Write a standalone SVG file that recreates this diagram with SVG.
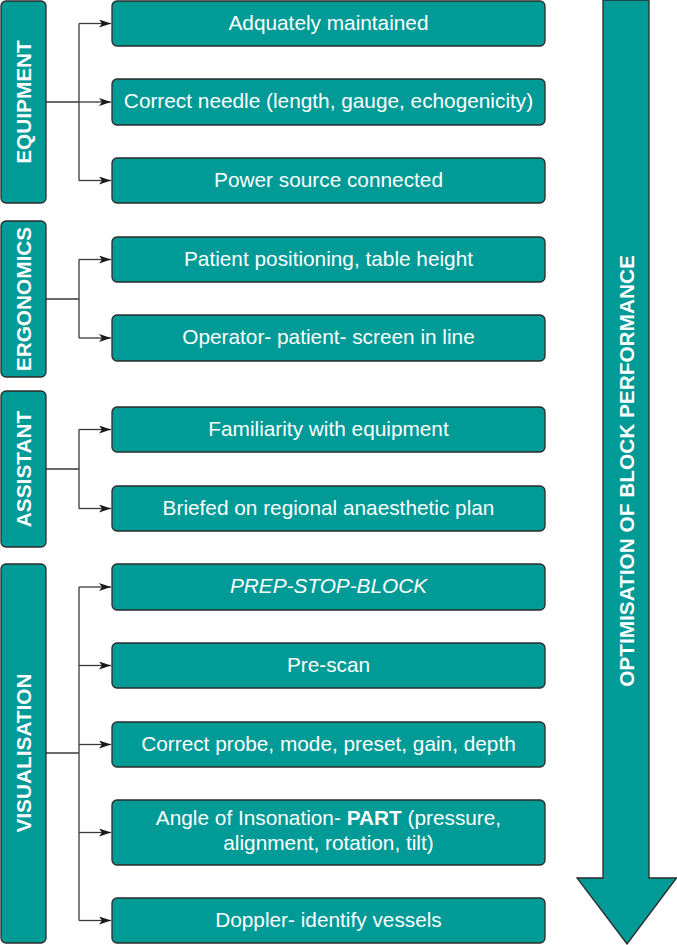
<svg xmlns="http://www.w3.org/2000/svg" width="677" height="945" viewBox="0 0 677 945">
<style>
.box{fill:#009a97;stroke:#2b2b2b;stroke-width:1.3}
.t{font-family:"Liberation Sans",Arial,sans-serif;font-size:20.8px;fill:#ffffff;text-anchor:middle}
.b{font-weight:bold}
.c{fill:none;stroke:#3a3a3a;stroke-width:1.3}
</style>
<defs>
<marker id="ah" markerWidth="12" markerHeight="8" refX="12" refY="4" orient="auto" markerUnits="userSpaceOnUse">
<path d="M0,0 L12,4 L0,8 L3,4 Z" fill="#1a1a1a"/>
</marker>
</defs>
<g id="connectors">
<path class="c" d="M46,102 H79 M79,23.5 V180.5"/>
<path class="c" d="M79,23.5 H111" marker-end="url(#ah)"/>
<path class="c" d="M79,102 H111" marker-end="url(#ah)"/>
<path class="c" d="M79,180.5 H111" marker-end="url(#ah)"/>
<path class="c" d="M46,299 H79 M79,259.5 V338"/>
<path class="c" d="M79,259.5 H111" marker-end="url(#ah)"/>
<path class="c" d="M79,338 H111" marker-end="url(#ah)"/>
<path class="c" d="M46,469 H79 M79,429.5 V508.5"/>
<path class="c" d="M79,429.5 H111" marker-end="url(#ah)"/>
<path class="c" d="M79,508.5 H111" marker-end="url(#ah)"/>
<path class="c" d="M46,753 H79 M79,587 V920.5"/>
<path class="c" d="M79,587 H111" marker-end="url(#ah)"/>
<path class="c" d="M79,665.5 H111" marker-end="url(#ah)"/>
<path class="c" d="M79,744.5 H111" marker-end="url(#ah)"/>
<path class="c" d="M79,832.5 H111" marker-end="url(#ah)"/>
<path class="c" d="M79,920.5 H111" marker-end="url(#ah)"/>
</g>
<g id="equipment"><rect class="box" x="1" y="1" width="45" height="202" rx="5"/><text class="t b" transform="translate(30.5,102) rotate(-90)">EQUIPMENT</text></g>
<g id="ergonomics"><rect class="box" x="1" y="221" width="45" height="156" rx="5"/><text class="t b" transform="translate(30.5,299) rotate(-90)">ERGONOMICS</text></g>
<g id="assistant"><rect class="box" x="1" y="391" width="45" height="156" rx="5"/><text class="t b" transform="translate(30.5,469) rotate(-90)">ASSISTANT</text></g>
<g id="visualisation"><rect class="box" x="1" y="564" width="45" height="379" rx="5"/><text class="t b" transform="translate(30.5,753) rotate(-90)">VISUALISATION</text></g>
<g id="n1"><rect class="box" x="112" y="1" width="433" height="45" rx="5"/><text class="t" x="328.5" y="29.5">Adquately maintained</text></g>
<g id="n2"><rect class="box" x="112" y="79" width="433" height="46" rx="5"/><text class="t" x="328.5" y="108">Correct needle (length, gauge, echogenicity)</text></g>
<g id="n3"><rect class="box" x="112" y="158" width="433" height="45" rx="5"/><text class="t" x="328.5" y="186.5">Power source connected</text></g>
<g id="n4"><rect class="box" x="112" y="237" width="433" height="45" rx="5"/><text class="t" x="328.5" y="265.5">Patient positioning, table height</text></g>
<g id="n5"><rect class="box" x="112" y="315" width="433" height="46" rx="5"/><text class="t" x="328.5" y="344">Operator- patient- screen in line</text></g>
<g id="n6"><rect class="box" x="112" y="407" width="433" height="45" rx="5"/><text class="t" x="328.5" y="435.5">Familiarity with equipment</text></g>
<g id="n7"><rect class="box" x="112" y="486" width="433" height="45" rx="5"/><text class="t" x="328.5" y="514.5">Briefed on regional anaesthetic plan</text></g>
<g id="n8"><rect class="box" x="112" y="564" width="433" height="46" rx="5"/><text class="t" x="328.5" y="593" font-style="italic">PREP-STOP-BLOCK</text></g>
<g id="n9"><rect class="box" x="112" y="643" width="433" height="45" rx="5"/><text class="t" x="328.5" y="671.5">Pre-scan</text></g>
<g id="n10"><rect class="box" x="112" y="722" width="433" height="45" rx="5"/><text class="t" x="328.5" y="750.5">Correct probe, mode, preset, gain, depth</text></g>
<g id="n11"><rect class="box" x="112" y="800" width="433" height="65" rx="5"/><text class="t" x="328.5" y="825">Angle of Insonation- <tspan class="b">PART</tspan> (pressure,</text><text class="t" x="328.5" y="850">alignment, rotation, tilt)</text></g>
<g id="n12"><rect class="box" x="112" y="898" width="433" height="45" rx="5"/><text class="t" x="328.5" y="926.5">Doppler- identify vessels</text></g>
<g id="big-arrow"><polygon class="box" points="603,0 649,0 649,878 676.5,878 627,944 577,878 603,878"/><text class="t b" transform="translate(633.5,471) rotate(-90)">OPTIMISATION OF BLOCK PERFORMANCE</text></g>
</svg>
